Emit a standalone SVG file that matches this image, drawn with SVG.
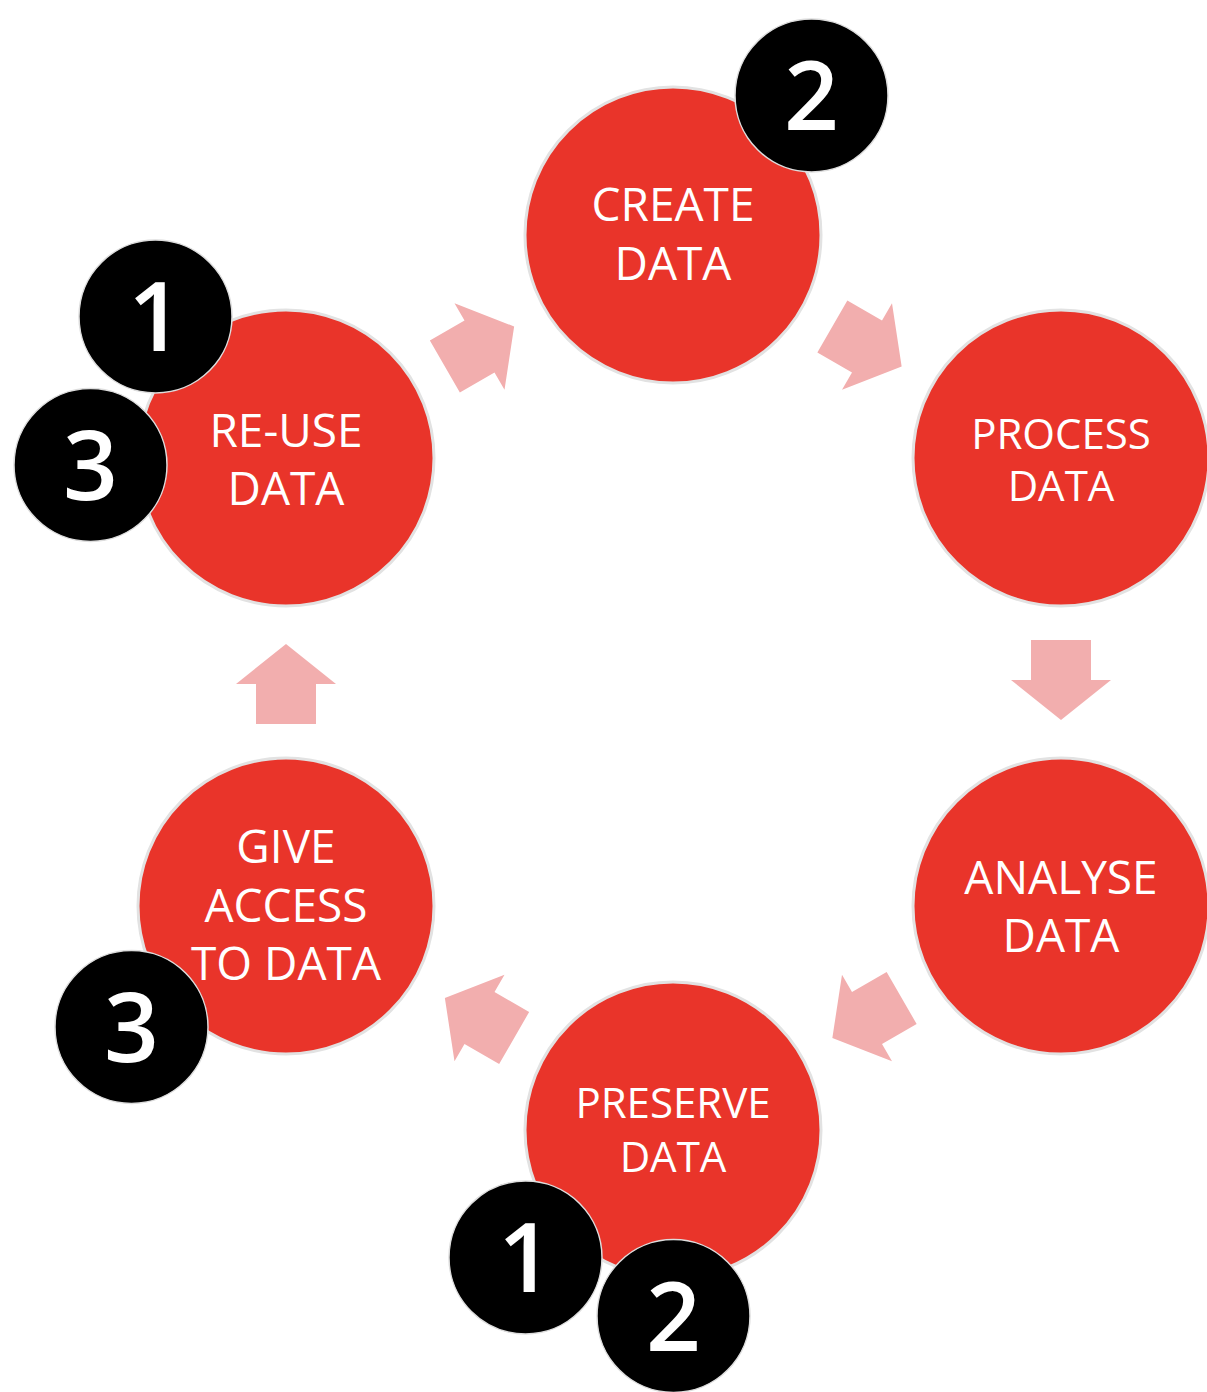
<svg xmlns="http://www.w3.org/2000/svg" width="1207" height="1392" viewBox="0 0 1207 1392">
<style>
.node{fill:#E9342A;stroke:#E2E2E2;stroke-width:3}
.lbl{fill:#fff;font-family:"Open Sans","Noto Sans",sans-serif;text-anchor:middle}
.badge{fill:#000;stroke:#DDDDDD;stroke-width:1.5}
.num{fill:#fff;font-family:"Open Sans","Noto Sans",sans-serif;font-size:96px;font-weight:600;text-anchor:middle}
.arr{fill:#F2AEAE}
</style>
<defs>
<polygon id="ar" points="-40,-30 0,-30 0,-50 40,0 0,50 0,30 -40,30"/>
</defs>
<rect width="1207" height="1392" fill="#fff"/>
<g id="connectors">
<use href="#ar" class="arr" transform="translate(479.5,346.5) rotate(-30)"/>
<use href="#ar" class="arr" transform="translate(867,346.5) rotate(30)"/>
<use href="#ar" class="arr" transform="translate(1061,680) rotate(90)"/>
<use href="#ar" class="arr" transform="translate(867,1018) rotate(150)"/>
<use href="#ar" class="arr" transform="translate(479.5,1018) rotate(210)"/>
<use href="#ar" class="arr" transform="translate(286,684) rotate(270)"/>
</g>
<g id="create">
<circle class="node" cx="673" cy="235" r="148"/>
<text class="lbl" font-size="46" x="673" y="221">CREATE</text>
<text class="lbl" font-size="46" x="673" y="280">DATA</text>
</g>
<g id="process">
<circle class="node" cx="1061" cy="458" r="148"/>
<text class="lbl" font-size="42" x="1061" y="449">PROCESS</text>
<text class="lbl" font-size="42" x="1061" y="501">DATA</text>
</g>
<g id="analyse">
<circle class="node" cx="1061" cy="906" r="148"/>
<text class="lbl" font-size="46" x="1061" y="894">ANALYSE</text>
<text class="lbl" font-size="46" x="1061" y="952">DATA</text>
</g>
<g id="preserve">
<circle class="node" cx="673" cy="1130" r="148"/>
<text class="lbl" font-size="42" x="673" y="1118">PRESERVE</text>
<text class="lbl" font-size="42" x="673" y="1172">DATA</text>
</g>
<g id="give-access">
<circle class="node" cx="286" cy="906" r="148"/>
<text class="lbl" font-size="46" x="286" y="863">GIVE</text>
<text class="lbl" font-size="46" x="286" y="922">ACCESS</text>
<text class="lbl" font-size="46" x="286" y="980">TO DATA</text>
</g>
<g id="reuse">
<circle class="node" cx="286" cy="458" r="148"/>
<text class="lbl" font-size="46" x="286" y="447">RE-USE</text>
<text class="lbl" font-size="46" x="286" y="505">DATA</text>
</g>
<g id="badge-create-2">
<circle class="badge" cx="811.5" cy="95.5" r="76.5"/>
<text class="num" x="811.5" y="130">2</text>
</g>
<g id="badge-reuse-1">
<circle class="badge" cx="155.5" cy="316.5" r="76.5"/>
<text class="num" x="155.5" y="351">1</text>
</g>
<g id="badge-reuse-3">
<circle class="badge" cx="90.5" cy="465" r="76.5"/>
<text class="num" x="90.5" y="499.5">3</text>
</g>
<g id="badge-give-3">
<circle class="badge" cx="131.5" cy="1027" r="76.5"/>
<text class="num" x="131.5" y="1061.5">3</text>
</g>
<g id="badge-preserve-1">
<circle class="badge" cx="525.5" cy="1257.5" r="76.5"/>
<text class="num" x="525.5" y="1292">1</text>
</g>
<g id="badge-preserve-2">
<circle class="badge" cx="673.5" cy="1316" r="76.5"/>
<text class="num" x="673.5" y="1350.5">2</text>
</g>
</svg>
